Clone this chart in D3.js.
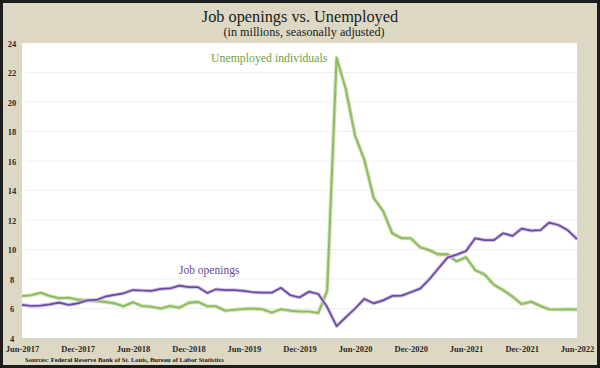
<!DOCTYPE html>
<html lang="en">
<head>
  <meta charset="UTF-8" />
  <title>Job openings vs. Unemployed</title>
  <script src="https://d3js.org/d3.v7.min.js"></script>
  <style>
    html, body { margin: 0; padding: 0; background: #ddd8c4; }
    svg { display: block; }
    text { font-family: "Liberation Serif", "DejaVu Serif", serif; }
  </style>
</head>
<body>
  <svg id="chart" width="600" height="368"></svg>

  <script>
    // monthly data, Jun-2017 .. Jun-2022 (millions, seasonally adjusted)
    const startMonth = "Jun-2017";
    const unemployed = [
      6.85, 6.9, 7.07, 6.85, 6.7, 6.73, 6.6,
      6.55, 6.5, 6.45, 6.35, 6.15, 6.42, 6.17, 6.12, 6.0, 6.17, 6.05, 6.38,
      6.45, 6.15, 6.15, 5.85, 5.92, 5.97, 6.0, 5.95, 5.72, 5.95, 5.85, 5.8,
      5.8, 5.7, 7.2, 23.0, 20.9, 17.7, 16.1, 13.5, 12.6, 11.1, 10.76, 10.76,
      10.15, 9.95, 9.67, 9.67, 9.2, 9.47, 8.6, 8.3, 7.6, 7.25, 6.8, 6.3,
      6.46, 6.17, 5.95, 5.93, 5.95, 5.93
    ];
    const jobOpenings = [
      6.25, 6.17, 6.2, 6.28, 6.4, 6.25, 6.35,
      6.55, 6.58, 6.8, 6.92, 7.03, 7.25, 7.22, 7.2, 7.33, 7.36, 7.55, 7.45,
      7.45, 7.05, 7.3, 7.25, 7.25, 7.2, 7.1, 7.07, 7.07, 7.4, 6.9, 6.75,
      7.14, 6.98, 6.1, 4.8, 5.4, 6.0, 6.65, 6.35, 6.55, 6.85, 6.87, 7.1,
      7.35, 8.0, 8.7, 9.45, 9.65, 9.9, 10.76, 10.64, 10.64, 11.1, 10.92, 11.42,
      11.28, 11.32, 11.82, 11.66, 11.32, 10.7
    ];
    const xTickLabels = ["Jun-2017", "Dec-2017", "Jun-2018", "Dec-2018", "Jun-2019",
      "Dec-2019", "Jun-2020", "Dec-2020", "Jun-2021", "Dec-2021", "Jun-2022"];
    const yTicks = [4, 6, 8, 10, 12, 14, 16, 18, 20, 22, 24];

    const W = 600, H = 368;
    const plot = { left: 22, right: 577, top: 43, bottom: 338 };

    const parse = d3.timeParse("%b-%Y");
    const fmt = d3.timeFormat("%b-%Y");
    const t0 = parse(startMonth);
    const months = unemployed.map((_, i) => d3.timeMonth.offset(t0, i));

    const x = d3.scaleTime()
      .domain([t0, parse(xTickLabels[xTickLabels.length - 1])])
      .range([plot.left, plot.right]);
    const y = d3.scaleLinear().domain([4, 24]).range([plot.bottom, plot.top]);

    const svg = d3.select("#chart");

    // background + white plot panel
    svg.append("rect").attr("width", W).attr("height", H).attr("fill", "#ddd8c4");
    svg.append("rect")
      .attr("x", plot.left).attr("y", plot.top)
      .attr("width", plot.right - plot.left).attr("height", plot.bottom - plot.top)
      .attr("fill", "#fff");

    // gridlines
    svg.append("g").selectAll("line")
      .data(yTicks.filter(d => d > 4 && d < 24))
      .join("line")
      .attr("x1", plot.left + 4).attr("x2", plot.right)
      .attr("y1", d => y(d)).attr("y2", d => y(d))
      .attr("stroke", "#efefef").attr("stroke-width", 1);

    // y axis labels
    const yAxis = d3.axisLeft(y).tickValues(yTicks).tickSize(0).tickPadding(0);
    const gy = svg.append("g").attr("transform", "translate(16,0.5)").call(yAxis);
    gy.select(".domain").remove();
    gy.selectAll("text")
      .attr("text-anchor", "middle").attr("x", -4)
      .style("font-family", "'Liberation Serif', serif")
      .style("font-size", "8.5px").style("font-weight", "bold").attr("fill", "#2a2a2a");

    // x axis labels
    const xAxis = d3.axisBottom(x)
      .tickValues(xTickLabels.map(parse))
      .tickFormat(fmt).tickSize(0).tickPadding(0);
    const gx = svg.append("g").attr("transform", `translate(0,${plot.bottom + 8})`).call(xAxis);
    gx.select(".domain").remove();
    gx.selectAll("text")
      .style("font-family", "'Liberation Serif', serif")
      .style("font-size", "8.5px").style("font-weight", "bold").attr("fill", "#2a2a2a");

    // lines
    const line = data => d3.line()
      .x((d, i) => x(months[i]))
      .y(d => y(d))(data);

    const series = [
      { data: unemployed, color: "#8fbd60", halo: "#d4e6c0", width: 2.1 },
      { data: jobOpenings, color: "#6b48a2", halo: "#cdc2e2", width: 1.7 }
    ];
    series.forEach(s => {
      svg.append("path").attr("d", line(s.data))
        .attr("fill", "none").attr("stroke", s.halo)
        .attr("stroke-width", s.width + 2).attr("stroke-linejoin", "round");
      svg.append("path").attr("d", line(s.data))
        .attr("fill", "none").attr("stroke", s.color)
        .attr("stroke-width", s.width).attr("stroke-linejoin", "round");
    });

    // series labels
    svg.append("text")
      .attr("x", 211).attr("y", 62)
      .attr("fill", "#6f9f47").style("font-size", "11.8px")
      .text("Unemployed individuals");
    svg.append("text")
      .attr("x", 179).attr("y", 274)
      .attr("fill", "#6a46a0").style("font-size", "11.5px")
      .text("Job openings");

    // titles
    svg.append("text")
      .attr("x", 300).attr("y", 22).attr("text-anchor", "middle")
      .attr("fill", "#1a1a1a").style("font-size", "16.3px")
      .text("Job openings vs. Unemployed");
    svg.append("text")
      .attr("x", 304).attr("y", 36).attr("text-anchor", "middle")
      .attr("fill", "#1a1a1a").style("font-size", "12.2px")
      .text("(in millions, seasonally adjusted)");

    // source
    svg.append("text")
      .attr("x", 25).attr("y", 362)
      .attr("fill", "#1a1a1a").style("font-size", "6.6px").style("font-weight", "bold")
      .text("Sources: Federal Reserve Bank of St. Louis, Bureau of Labor Statistics");

    // outer frame
    svg.append("rect")
      .attr("x", 1.5).attr("y", 1.5).attr("width", W - 3).attr("height", H - 3)
      .attr("fill", "none").attr("stroke", "#1c1c1c").attr("stroke-width", 3);
  </script>
</body>
</html>
